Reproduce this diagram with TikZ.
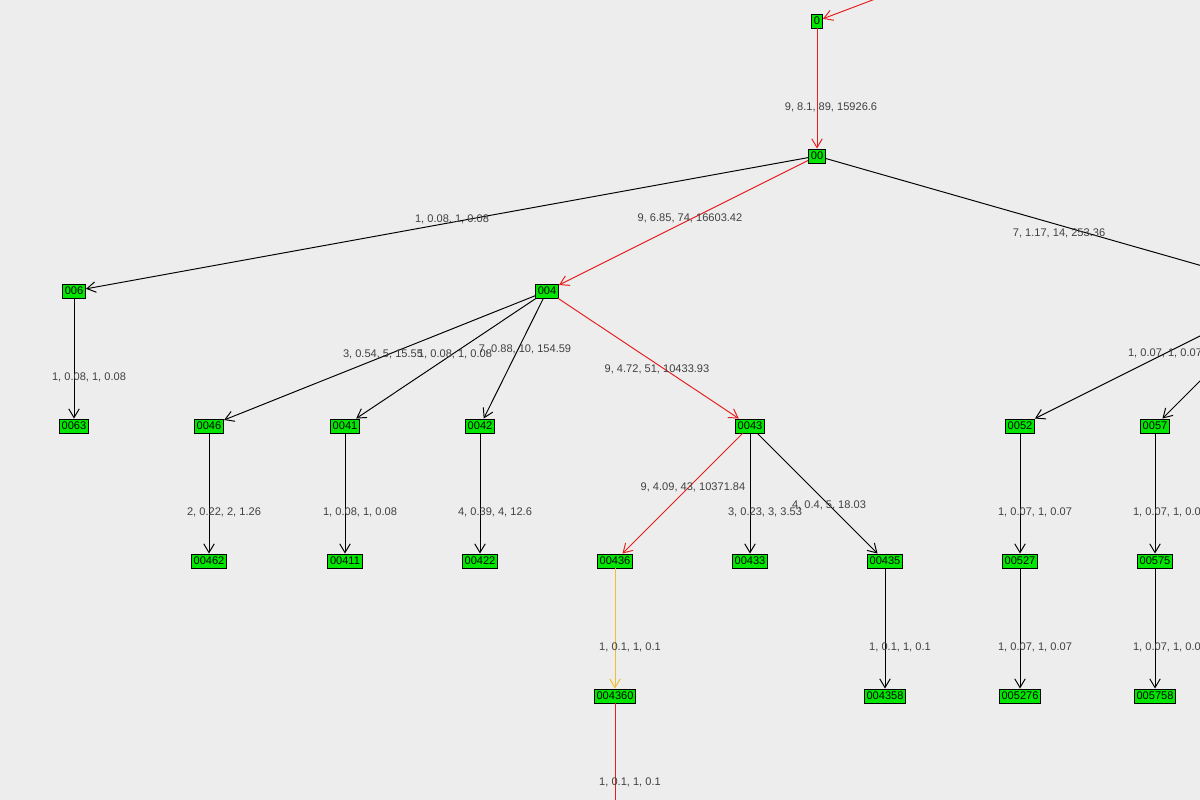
\documentclass[tikz,border=0pt]{standalone}
\usepackage{fontspec}
\setmainfont{Liberation Sans}
\usetikzlibrary{arrows.meta}
\definecolor{ered}{RGB}{230,30,30}
\definecolor{eyel}{RGB}{240,190,50}
\definecolor{ngreen}{RGB}{0,230,0}
\begin{document}
\begin{tikzpicture}[x=0.02cm,y=-0.02cm,line width=0.55pt,
 nd/.style={draw=black,fill=ngreen,inner sep=1.3pt,minimum height=14*0.02cm,font=\fontsize{6.3}{7}\selectfont},
 lb/.style={font=\fontsize{6.3}{7}\selectfont,text=black!75},
 tip/.style={-{Straight Barb[length=5pt,width=6pt]}},
 ed/.style={draw=black,tip},
 rd/.style={draw=ered,tip},
 yd/.style={draw=eyel,tip}]
\fill[black!7] (0,0) rectangle (1200,800);
\useasboundingbox (0,0) rectangle (1200,800);
\clip (0,0) rectangle (1200,800);
\node[nd] (n0) at (817,21) {0};
\node[nd] (n00) at (817,156) {00};
\node[nd] (n006) at (74,291) {006};
\node[nd] (n004) at (547,291) {004};
\node[nd] (n0063) at (74,426) {0063};
\node[nd] (n0046) at (209,426) {0046};
\node[nd] (n0041) at (345,426) {0041};
\node[nd] (n0042) at (480,426) {0042};
\node[nd] (n0043) at (750,426) {0043};
\node[nd] (n0052) at (1020,426) {0052};
\node[nd] (n0057) at (1155,426) {0057};
\node[nd] (n00462) at (209,561) {00462};
\node[nd] (n00411) at (345,561) {00411};
\node[nd] (n00422) at (480,561) {00422};
\node[nd] (n00436) at (615,561) {00436};
\node[nd] (n00433) at (750,561) {00433};
\node[nd] (n00435) at (885,561) {00435};
\node[nd] (n00527) at (1020,561) {00527};
\node[nd] (n00575) at (1155,561) {00575};
\node[nd] (n004360) at (615,696) {004360};
\node[nd] (n004358) at (885,696) {004358};
\node[nd] (n005276) at (1020,696) {005276};
\node[nd] (n005758) at (1155,696) {005758};
\coordinate (top) at (952,-30);
\coordinate (n005) at (1290,291);
\coordinate (bot) at (615,830);
\draw[rd] (top) -- (n0);
\draw[rd] (n0) -- (n00);
\draw[ed] (n00) -- (n006);
\draw[rd] (n00) -- (n004);
\draw[draw=black] (n00) -- (n005);
\draw[ed] (n006) -- (n0063);
\draw[ed] (n004) -- (n0046);
\draw[ed] (n004) -- (n0041);
\draw[ed] (n004) -- (n0042);
\draw[rd] (n004) -- (n0043);
\draw[ed] (n005) -- (n0052);
\draw[ed] (n005) -- (n0057);
\draw[ed] (n0046) -- (n00462);
\draw[ed] (n0041) -- (n00411);
\draw[ed] (n0042) -- (n00422);
\draw[rd] (n0043) -- (n00436);
\draw[ed] (n0043) -- (n00433);
\draw[ed] (n0043) -- (n00435);
\draw[ed] (n0052) -- (n00527);
\draw[ed] (n0057) -- (n00575);
\draw[yd] (n00436) -- (n004360);
\draw[ed] (n00435) -- (n004358);
\draw[ed] (n00527) -- (n005276);
\draw[ed] (n00575) -- (n005758);
\draw[draw=ered] (n004360) -- (bot);
\node[lb] (l1) at (831,107) {9, 8.1, 89, 15926.6};
\node[lb] (l2) at (452,219) {1, 0.08, 1, 0.08};
\node[lb] (l3) at (690,218) {9, 6.85, 74, 16603.42};
\node[lb] (l4) at (1059,233) {7, 1.17, 14, 253.36};
\node[lb] (l5) at (89,377) {1, 0.08, 1, 0.08};
\node[lb] (l6) at (383,354) {3, 0.54, 5, 15.55};
\node[lb] (l7) at (455,354) {1, 0.08, 1, 0.08};
\node[lb] (l8) at (525,349) {7, 0.88, 10, 154.59};
\node[lb] (l9) at (657,369) {9, 4.72, 51, 10433.93};
\node[lb] (l10) at (1165,353) {1, 0.07, 1, 0.07};
\node[lb] (l11) at (224,512) {2, 0.22, 2, 1.26};
\node[lb] (l12) at (360,512) {1, 0.08, 1, 0.08};
\node[lb] (l13) at (495,512) {4, 0.39, 4, 12.6};
\node[lb] (l14) at (693,487) {9, 4.09, 43, 10371.84};
\node[lb] (l15) at (765,512) {3, 0.23, 3, 3.53};
\node[lb] (l16) at (829,505) {4, 0.4, 5, 18.03};
\node[lb] (l17) at (1035,512) {1, 0.07, 1, 0.07};
\node[lb] (l18) at (1170,512) {1, 0.07, 1, 0.07};
\node[lb] (l19) at (630,647) {1, 0.1, 1, 0.1};
\node[lb] (l20) at (900,647) {1, 0.1, 1, 0.1};
\node[lb] (l21) at (1035,647) {1, 0.07, 1, 0.07};
\node[lb] (l22) at (1170,647) {1, 0.07, 1, 0.07};
\node[lb] (l23) at (630,782) {1, 0.1, 1, 0.1};
\end{tikzpicture}
\end{document}
